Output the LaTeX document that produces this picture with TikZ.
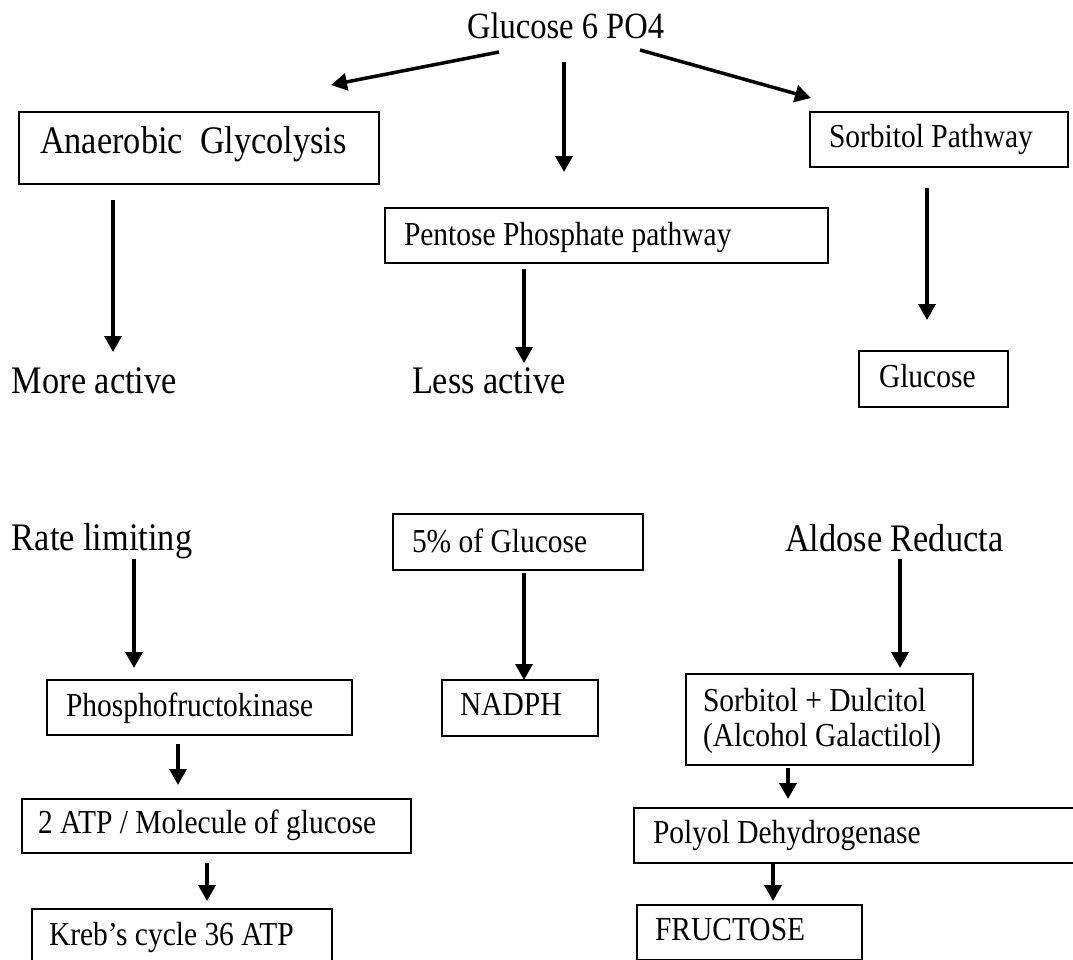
\documentclass[tikz,border=0pt]{standalone}
\usepackage{fontspec}
\setmainfont{Liberation Serif}[FakeStretch=0.88]
\usetikzlibrary{arrows.meta}

\begin{document}
\begin{tikzpicture}[x=1pt,y=-1pt,
  big/.style={font=\fontsize{39}{44}\selectfont},
  small/.style={font=\fontsize{33.5}{35}\selectfont},
  lbl/.style={anchor=base west,inner sep=0pt,outer sep=0pt},
  box/.style={draw,line width=2pt,anchor=base west,align=flush left,inner ysep=0pt,outer sep=0pt},
  arr/.style={line width=3.5pt,-{Triangle[width=17pt,length=16pt]}}]
\path[fill=white,use as bounding box] (0,0) rectangle (1073,959);
\clip (0,0) rectangle (1073,959);

\node[lbl,font=\fontsize{37}{40}\selectfont] (g6) at (467,38) {Glucose 6 PO4};
\node[box,big,inner xsep=21pt,text width=318pt,text height=41pt,text depth=31pt] (anaer) at (19,153) {Anaerobic\ \ Glycolysis};
\node[box,small,inner xsep=19pt,text width=405pt,text height=37pt,text depth=18pt] (pentose) at (385,245) {Pentose Phosphate pathway};
\node[box,small,inner xsep=19pt,text width=220pt,text height=35pt,text depth=20pt] (sorbpath) at (810,147) {Sorbitol Pathway};
\node[lbl,big] (more) at (12,393) {More active};
\node[lbl,big] (less) at (412,393) {Less active};
\node[box,small,inner xsep=20pt,text width=109pt,text height=36pt,text depth=20pt] (glucose) at (859,387) {Glucose};

\node[lbl,big] (rate) at (12,550) {Rate limiting};
\node[box,small,inner xsep=19pt,text width=212pt,text height=38pt,text depth=18pt] (pct5) at (393,552) {5\% of Glucose};
\node[lbl,big] (aldose) at (785,551) {Aldose Reducta};
\node[box,small,inner xsep=19pt,text width=267pt,text height=36pt,text depth=19pt] (pfk) at (47,716) {Phosphofructokinase};
\node[box,small,inner xsep=18pt,text width=120pt,text height=35pt,text depth=21pt] (nadph) at (442,715) {NADPH};
\node[box,small,inner xsep=17pt,text width=253pt,text height=37pt,text depth=54pt] (sordul) at (686,711) {Sorbitol + Dulcitol\\(Alcohol Galactilol)};
\node[box,small,inner xsep=16pt,text width=357pt,text height=34pt,text depth=20pt] (atp2) at (22,833) {2 ATP / Molecule of glucose};
\node[box,small,inner xsep=19pt,text width=442pt,text height=35pt,text depth=20pt] (polyol) at (634,843) {Polyol Dehydrogenase};
\node[box,small,inner xsep=17pt,text width=266pt,text height=36pt,text depth=20pt] (kreb) at (32,945) {Kreb's cycle 36 ATP};
\node[box,small,inner xsep=18pt,text width=189pt,text height=35pt,text depth=20pt] (fructose) at (637,940) {FRUCTOSE};

\draw[arr] ([shift={(32,14)}]g6.base west) -- ([shift={(312,-27)}]anaer.north west);
\draw[arr] ([shift={(97,24)}]g6.base west) -- ([shift={(179,-36)}]pentose.north west);
\draw[arr] ([shift={(173,12)}]g6.base west) -- ([shift={(1,-14)}]sorbpath.north west);
\draw[arr] ([shift={(94,16)}]anaer.south west) -- ([shift={(101,-41)}]more.base west);
\draw[arr] ([shift={(139,6)}]pentose.south west) -- ([shift={(112,-30)}]less.base west);
\draw[arr] ([shift={(117,21)}]sorbpath.south west) -- ([shift={(68,-31)}]glucose.north west);
\draw[arr] ([shift={(122,9)}]rate.base west) -- ([shift={(87,-12)}]pfk.north west);
\draw[arr] ([shift={(131,9)}]pfk.south west) -- ([shift={(156,-14)}]atp2.north west);
\draw[arr] ([shift={(185,10)}]atp2.south west) -- ([shift={(175,-8)}]kreb.north west);
\draw[arr] ([shift={(131,3)}]pct5.south west) -- ([shift={(82,0)}]nadph.north west);
\draw[arr] ([shift={(115,8)}]aldose.base west) -- ([shift={(214,-6)}]sordul.north west);
\draw[arr] ([shift={(102,3)}]sordul.south west) -- ([shift={(154,-9)}]polyol.north west);
\draw[arr] ([shift={(139,1)}]polyol.south west) -- ([shift={(136,-4)}]fructose.north west);
\end{tikzpicture}
\end{document}
